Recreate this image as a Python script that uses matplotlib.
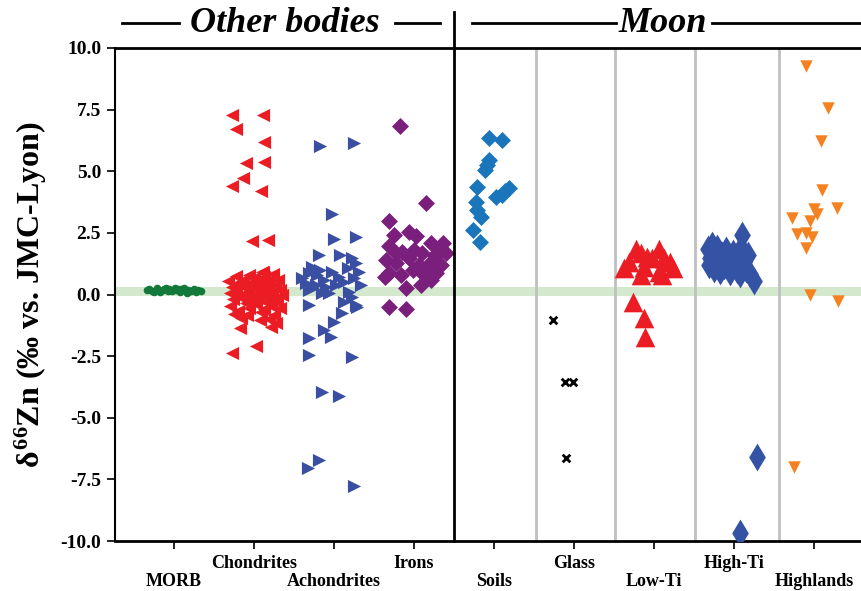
import numpy as np
import matplotlib
matplotlib.use("Agg")
import matplotlib.pyplot as plt
from matplotlib.lines import Line2D

plt.rcParams["font.family"] = ["Liberation Serif", "DejaVu Serif"]
plt.rcParams["font.weight"] = "bold"
plt.rcParams["mathtext.fontset"] = "custom"
plt.rcParams["mathtext.rm"] = "Liberation Serif:bold"
plt.rcParams["mathtext.it"] = "Liberation Serif:bold"
plt.rcParams["mathtext.bf"] = "Liberation Serif:bold"

# ---- categories -------------------------------------------------------------
categories = ["MORB", "Chondrites", "Achondrites", "Irons", "Soils",
              "Glass", "Low-Ti", "High-Ti", "Highlands"]
yticks = [-10.0, -7.5, -5.0, -2.5, 0.0, 2.5, 5.0, 7.5, 10.0]

# ---- δ66Zn values (‰) and horizontal scatter offsets per group --------------
morb_vals = [0.18, 0.22, 0.15, 0.20, 0.25, 0.12, 0.19, 0.23, 0.16, 0.21, 0.14,
             0.26, 0.18, 0.11, 0.22, 0.17, 0.08, 0.20, 0.15, 0.24, 0.12, 0.19,
             0.16, 0.10, 0.28, 0.21, 0.13, 0.27]
morb_dx = [-0.34, -0.31, -0.27, -0.23, -0.21, -0.18, -0.14, -0.12, -0.08, -0.06,
           -0.03, 0.01, 0.03, 0.07, 0.09, 0.12, 0.16, 0.18, 0.21, 0.25, 0.27,
           0.30, 0.34, -0.25, -0.10, 0.05, 0.20, 0.13]

chond_vals = [7.28, 7.28, 6.70, 6.20, 5.35, 5.39, 4.71, 4.40, 4.20, 2.18, 2.21,
              0.92, -1.36, -1.30, -2.09, -2.39,
              0.55, 0.30, 0.05, -0.20, -0.45, 0.75, 0.45, 0.15, -0.10, -0.65,
              0.60, 0.30, 0.00, -0.35, -0.95, 0.80, 0.45, 0.10, -0.20, -0.55,
              0.65, 0.25, -0.05, -0.40, 0.50, 0.15, -0.15, -0.70, 0.70, 0.35,
              0.00, -0.30, -0.60, 0.55, 0.20, -0.10, -0.45, -1.00, 0.85, 0.40,
              0.05, -0.25, -0.85, 0.60, 0.20, -0.15, -0.55, 0.00, -1.15, -0.85,
              -1.05, -0.80, 0.90, 0.35]
chond_dx = [-0.28, 0.11, -0.22, 0.13, -0.10, 0.13, -0.14, -0.28, 0.09, -0.02,
            0.17, 0.11, -0.18, 0.21, 0.03, -0.28,
            -0.32, -0.28, -0.30, -0.26, -0.30, -0.22, -0.20, -0.22, -0.18, -0.20,
            -0.14, -0.12, -0.15, -0.10, -0.16, -0.06, -0.05, -0.08, -0.04, -0.06,
            0.00, 0.02, -0.01, 0.03, 0.06, 0.08, 0.05, 0.09, 0.12, 0.14,
            0.11, 0.15, 0.13, 0.18, 0.20, 0.17, 0.21, 0.19, 0.24, 0.26,
            0.23, 0.27, 0.25, 0.30, 0.32, 0.29, 0.33, 0.35, 0.28, -0.09,
            0.07, -0.25, 0.10, -0.03]

achon_vals = [6.02, 6.16, 3.25, 2.24, 2.35, 1.60, 1.60, -0.43, -0.43, -1.10,
              -0.75, -1.44, -1.71, -1.78, -2.45, -2.55, -3.94, -4.12, -6.71,
              -7.05, -7.76,
              1.47, 1.27, 0.86, 0.99, 0.92, 1.06, 0.92, 0.45, 0.39, 0.32, 0.52,
              0.39, 0.18, 0.05, 0.11, -0.29, -0.49, 0.05, 0.79, 0.72, 0.66,
              0.66, 1.13, 0.39, 0.25, 0.60, -0.10]
achon_dx = [-0.17, 0.25, -0.02, 0.00, 0.27, -0.19, 0.08, 0.27, -0.31, 0.00,
            0.10, -0.12, -0.04, -0.31, -0.31, 0.23, -0.15, 0.06, -0.19,
            -0.33, 0.25,
            0.23, 0.27, -0.31, -0.17, -0.02, 0.17, 0.31, -0.35, -0.23, -0.10, 0.12,
            0.33, -0.31, -0.15, 0.19, 0.12, 0.29, -0.06, -0.21, 0.06, -0.40,
            0.25, -0.27, 0.02, -0.28, -0.12, 0.22]

iron_vals = [6.85, 3.70, 2.98, -0.52, -0.60,
             2.41, 2.55, 2.37, 2.08, 2.10, 1.97, 1.74, 1.81, 1.67, 1.67, 1.40,
             1.27, 1.47, 1.20, 1.33, 1.20, 0.86, 0.79, 0.99, 0.79, 0.86, 0.25,
             0.39, 0.59, 0.72, 1.67, 1.67, 1.05, 1.55]
iron_dx = [-0.18, 0.15, -0.32, -0.31, -0.10,
           -0.25, -0.06, 0.02, 0.21, 0.36, -0.31, -0.15, 0.00, 0.10, 0.29, -0.35,
           -0.23, -0.06, 0.06, 0.21, 0.33, -0.31, -0.17, -0.02, 0.12, 0.27, -0.10,
           0.08, 0.21, -0.37, -0.23, 0.40, 0.16, 0.26]

soil_vals = [6.34, 6.27, 5.46, 5.05, 5.25, 4.37, 4.31, 4.04, 3.97, 4.20, 3.76,
             3.43, 3.16, 2.62, 2.14]
soil_dx = [-0.06, 0.10, -0.06, -0.12, -0.09, -0.21, 0.19, 0.10, 0.02, 0.14,
           -0.23, -0.21, -0.17, -0.27, -0.18]

glass_vals = [-1.03, -3.54, -3.54, -6.65]
glass_dx = [-0.27, -0.12, -0.02, -0.10]

lowti_vals = [1.83, 1.83, 1.53, 1.33, 1.33, 1.47, 1.67, 1.47, 1.06, 1.06, 0.92,
              1.13, 0.79, 0.79, -0.29, -0.97, -1.71]
lowti_dx = [-0.23, 0.06, -0.09, 0.20, -0.32, -0.03, -0.17, 0.12, -0.38, 0.24,
            0.06, -0.13, -0.17, 0.10, -0.26, -0.13, -0.11]

highti_vals = [1.85, 1.50, 1.20, 1.65, 1.05, 1.90, 1.35, 0.95, 1.60, 1.15, 1.80,
               1.40, 0.90, 1.70, 1.25, 1.00, 1.55, 1.90, 2.41, 1.30, 1.05, 1.60,
               0.85, 0.55, 2.00, 0.85, -6.58, -9.69]
highti_dx = [-0.33, -0.30, -0.32, -0.27, -0.25, -0.22, -0.20, -0.18, -0.15, -0.13,
             -0.10, -0.08, -0.05, -0.02, 0.00, 0.03, 0.05, 0.08, 0.10, 0.12,
             0.15, 0.17, 0.20, 0.24, -0.28, 0.07, 0.28, 0.07]

highl_vals = [9.25, 7.55, 6.22, 4.22, 3.50, 3.47, 3.28, 3.09, 3.00, 2.45, 2.50,
              2.32, 1.90, 0.00, -0.27, -6.98]
highl_dx = [-0.10, 0.17, 0.08, 0.10, 0.28, -0.01, 0.03, -0.28, -0.05, -0.22,
            -0.10, -0.03, -0.10, -0.06, 0.30, -0.25]

# ---- figure -----------------------------------------------------------------
W, H = 862, 591
fig = plt.figure(figsize=(W / 100, H / 100), dpi=100)
ax = fig.add_axes([115 / W, 1 - 541 / H, (W - 115) / W, 493 / H])

xpos = np.arange(1, len(categories) + 1)
ax.set_xlim(0.263, 9.595)
ax.set_ylim(-10, 10)

# reference band around the bulk silicate Earth value
ax.axhspan(-0.05, 0.32, color="#d3e8cc", zorder=0, lw=0)

# separators between the lunar groups
for xv in [5.52, 6.51, 7.51, 8.56]:
    ax.axvline(xv, color="#c0c0c0", lw=2, zorder=1)
ax.axvline(4.5, ymin=0, ymax=(541 - 12) / 493, color="black", lw=2,
           clip_on=False, zorder=5)

groups = [
    (morb_vals, morb_dx, "o", 30, "#12793b"),
    (chond_vals, chond_dx, "<", 90, "#ec1c24"),
    (achon_vals, achon_dx, ">", 90, "#3a4fa2"),
    (iron_vals, iron_dx, "D", 75, "#7a1f7b"),
    (soil_vals, soil_dx, "D", 75, "#1a75bb"),
    (glass_vals, glass_dx, "x", 30, "black"),
    (lowti_vals, lowti_dx, "^", 200, "#ec1c24"),
    (highti_vals, highti_dx, "d", 200, "#3553a5"),
    (highl_vals, highl_dx, "v", 80, "#f58220"),
]
for i, (vals, dx, mk, sz, col) in enumerate(groups):
    x = xpos[i] + np.asarray(dx)
    if mk == "x":
        ax.scatter(x, vals, marker=mk, s=sz, color=col, linewidths=2, zorder=3)
    else:
        ax.scatter(x, vals, marker=mk, s=sz, color=col, linewidths=0, zorder=3)

# axes styling
ax.spines["right"].set_visible(False)
ax.spines["left"].set_linewidth(1.5)
ax.spines["bottom"].set_linewidth(2)
ax.spines["top"].set_linewidth(2)
ax.set_yticks(yticks)
ax.set_yticklabels([f"{v:.1f}" for v in yticks])
ax.tick_params(axis="y", length=6, width=1.2, pad=4, labelsize=14)

# category labels staggered on two rows: odd groups low (major), even high (minor)
ax.set_xticks(xpos[0::2])
ax.set_xticklabels(categories[0::2])
ax.set_xticks(xpos[1::2], minor=True)
ax.set_xticklabels(categories[1::2], minor=True)
ax.tick_params(axis="x", which="minor", length=6, width=1.2, pad=4, labelsize=13)
ax.tick_params(axis="x", which="major", length=6, width=1.2, pad=17, labelsize=13)
for lab in (ax.get_xticklabels() + ax.get_xticklabels(minor=True)
            + ax.get_yticklabels()):
    lab.set_fontweight("bold")

ax.set_ylabel(r"$\delta^{66}$Zn (‰ vs. JMC-Lyon)", fontsize=23,
              fontweight="bold", labelpad=8)

# group headings above the plot
hy = 1 - 23 / H
fig.text(285 / W, hy, "Other bodies", fontsize=26, fontweight="bold",
         fontstyle="italic", ha="center", va="center")
fig.text(663 / W, hy, "Moon", fontsize=26, fontweight="bold",
         fontstyle="italic", ha="center", va="center")
for x0, x1 in [(122, 179), (395, 440), (472, 616), (712, 862)]:
    fig.add_artist(Line2D([x0 / W, x1 / W], [hy, hy], color="black", lw=2))

fig.savefig("out.png", dpi=100)
